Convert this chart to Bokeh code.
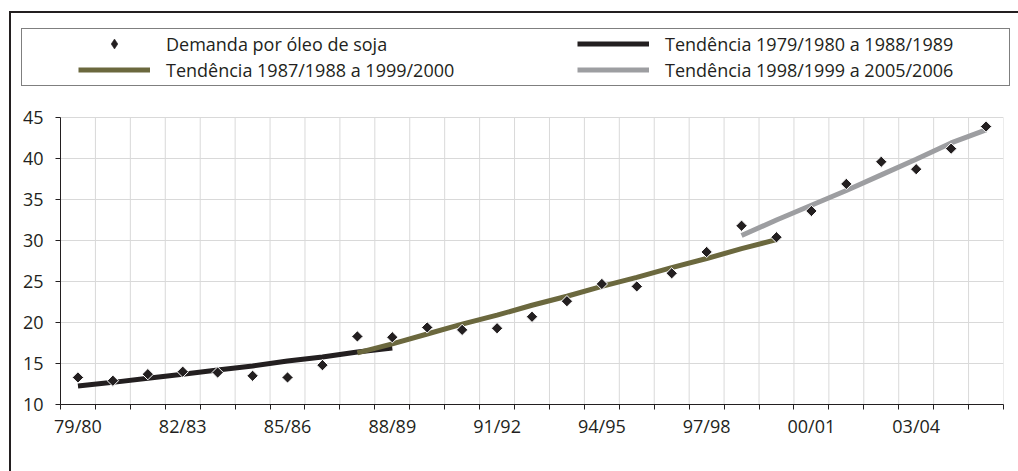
import math
from bokeh.plotting import figure
from bokeh.models import (Legend, LegendItem, FixedTicker, Range1d, InlineStyleSheet,
                          CDSView, IndexFilter, ColumnDataSource)
from bokeh.embed import file_html
from bokeh.resources import INLINE

# ---------------- data ----------------
categories = ["79/80", "80/81", "81/82", "82/83", "83/84", "84/85", "85/86", "86/87",
              "87/88", "88/89", "89/90", "90/91", "91/92", "92/93", "93/94", "94/95",
              "95/96", "96/97", "97/98", "98/99", "99/00", "00/01", "01/02", "02/03",
              "03/04", "04/05", "05/06"]
demanda = [13.3, 12.9, 13.7, 14.0, 13.9, 13.5, 13.3, 14.8, 18.3, 18.2, 19.4, 19.1, 19.3,
           20.7, 22.6, 24.7, 24.4, 26.0, 28.6, 31.8, 30.4, 33.6, 36.9, 39.6, 38.7, 41.2, 43.9]

trend1_cats = categories[0:10]
trend1 = [12.25, 12.7, 13.2, 13.7, 14.2, 14.7, 15.3, 15.8, 16.4, 16.9]
trend2_cats = categories[8:21]
trend2 = [16.3, 17.4, 18.6, 19.8, 20.9, 22.1, 23.2, 24.4, 25.5, 26.7, 27.8, 29.0, 30.1]
trend3_cats = categories[19:27]
trend3 = [30.6, 32.5, 34.3, 36.1, 38.0, 39.9, 41.9, 43.5]

y_ticks = [10, 15, 20, 25, 30, 35, 40, 45]
label_every = 3

names = ["Demanda por óleo de soja", "Tendência 1979/1980 a 1988/1989",
         "Tendência 1987/1988 a 1999/2000", "Tendência 1998/1999 a 2005/2006"]

# ---------------- styles / layout ----------------
FONT = "Open Sans"
FONT_SIZE = "18px"
INK = "#231f20"
OLIVE = "#6b683e"
GREY = "#9d9ea1"
GRID = "#d9d9d9"
W, H = 1018, 471
FRAME_LEFT, FRAME_RIGHT = 60, 1003
AXIS_TOP_PX, AXIS_BOTTOM_PX = 117, 404   # pixel rows of the 45 and 10 ticks

idx = {c: i for i, c in enumerate(categories)}
def xc(cats):
    return [idx[c] + 0.5 for c in cats]

# the plot area reaches the top of the canvas so the legend sits inside it
y0, y1 = y_ticks[0], y_ticks[-1]
y_top = y1 + (y1 - y0) * AXIS_TOP_PX / (AXIS_BOTTOM_PX - AXIS_TOP_PX)

p = figure(width=W, height=H, output_backend="svg", toolbar_location=None,
           x_range=Range1d(0, len(categories)), y_range=Range1d(y0, y_top),
           min_border_left=FRAME_LEFT, min_border_right=W - FRAME_RIGHT,
           min_border_top=0, min_border_bottom=H - AXIS_BOTTOM_PX)
p.outline_line_color = None
p.background_fill_color = "white"
p.border_fill_color = "white"

# grid
p.xgrid.grid_line_color = None
p.ygrid.grid_line_color = GRID
p.ygrid.ticker = FixedTicker(ticks=y_ticks)
bounds = list(range(len(categories) + 1))
p.segment(x0=bounds, x1=bounds, y0=[y0] * len(bounds), y1=[y1] * len(bounds),
          line_color=GRID, line_width=1, level="underlay")

# x axis: labels at centres every 3rd category, ticks at every boundary
xa = p.xaxis[0]
major = [i + 0.5 for i in range(0, len(categories), label_every)]
xa.ticker = FixedTicker(ticks=major, minor_ticks=bounds)
xa.major_label_overrides = {i + 0.5: categories[i] for i in range(0, len(categories), label_every)}
xa.major_tick_out = 0
xa.major_tick_in = 0
xa.minor_tick_out = 5
xa.minor_tick_in = 0
xa.minor_tick_line_color = INK
xa.axis_line_color = INK
xa.major_label_standoff = 4
xa.major_label_text_font = FONT
xa.major_label_text_font_size = FONT_SIZE
xa.major_label_text_color = INK

ya = p.yaxis[0]
ya.ticker = FixedTicker(ticks=y_ticks)
ya.bounds = (y0, y1)
ya.major_tick_out = 5
ya.major_tick_in = 0
ya.minor_tick_out = 0
ya.minor_tick_in = 0
ya.major_tick_line_color = INK
ya.axis_line_color = INK
ya.major_label_standoff = 12
ya.major_label_text_font = FONT
ya.major_label_text_font_size = FONT_SIZE
ya.major_label_text_color = INK

# lines and points
r1 = p.line(xc(trend1_cats), trend1, line_color=INK, line_width=5)
r2 = p.line(xc(trend2_cats), trend2, line_color=OLIVE, line_width=5)
r3 = p.line(xc(trend3_cats), trend3, line_color=GREY, line_width=5)
pts = ColumnDataSource(data=dict(x=xc(categories), y=demanda))
# legend key for the points (legends draw markers unrotated); it sits hidden
# beneath the first point
r0_key = p.scatter("x", "y", source=pts, view=CDSView(filter=IndexFilter(indices=[0])),
                   marker="diamond", size=9, fill_color=INK, line_color=INK, line_width=0.5)
r0 = p.scatter("x", "y", source=pts, marker="square", angle=math.pi / 4, size=8,
               fill_color=INK, line_color="white", line_width=1)

# legends (two columns), placed in the top part of the plot area
common = dict(glyph_width=72, glyph_height=25, label_height=25, label_standoff=16,
              spacing=1, padding=0, margin=0, border_line_alpha=0,
              background_fill_alpha=0, label_text_font=FONT,
              label_text_font_size=FONT_SIZE, label_text_color=INK)
leg_y = AXIS_BOTTOM_PX - 82
leg1 = Legend(items=[LegendItem(label=names[0], renderers=[r0_key]),
                     LegendItem(label=names[2], renderers=[r2])],
              location=(78 - FRAME_LEFT, leg_y), **common)
leg2 = Legend(items=[LegendItem(label=names[1], renderers=[r1]),
                     LegendItem(label=names[3], renderers=[r3])],
              location=(577 - FRAME_LEFT, leg_y), **common)
p.add_layout(leg1)
p.add_layout(leg2)

# outer frame and legend box (page decoration)
p.stylesheets = [InlineStyleSheet(css="""
:host { position: relative; }
:host::before { content: ""; position: absolute; left: 9px; top: 11px; right: 0; bottom: 0;
  border-left: 2.5px solid #231f20; border-top: 2px solid #231f20;
  pointer-events: none; z-index: 20; }
:host::after { content: ""; position: absolute; left: 21px; top: 28px; width: 989px; height: 58px;
  border: 1px solid #7f7f7f; box-sizing: border-box; pointer-events: none; z-index: 20; }
""")]

open("out.html", "w").write(file_html(p, INLINE))
